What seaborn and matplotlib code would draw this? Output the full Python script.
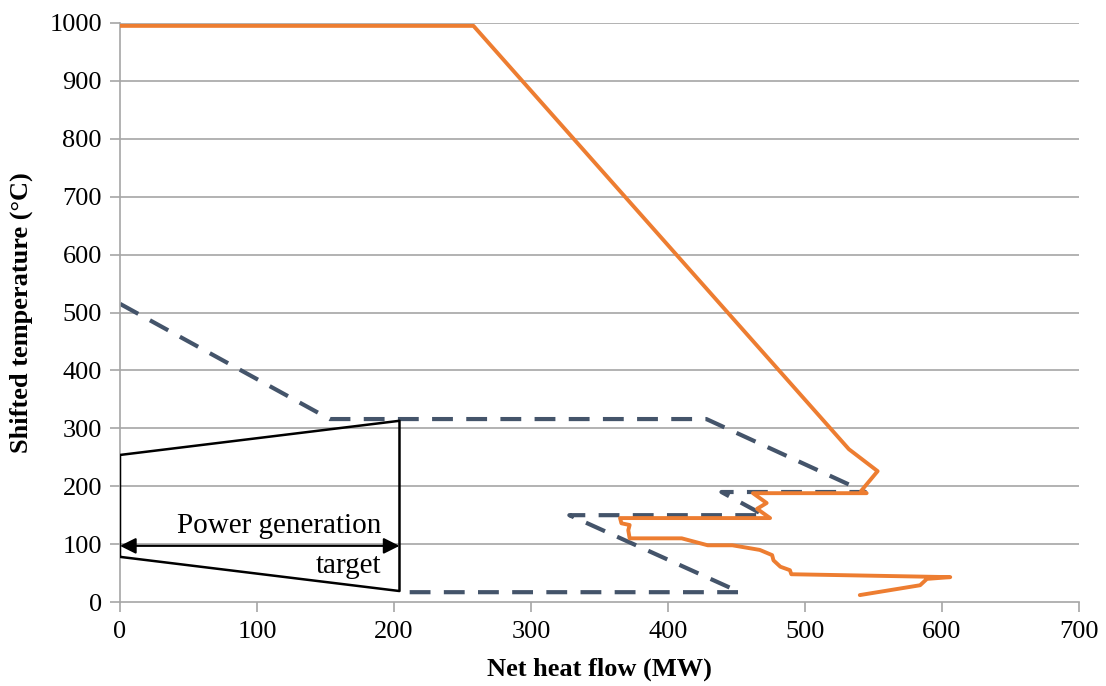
import matplotlib
matplotlib.use("Agg")
import matplotlib.pyplot as plt
import seaborn as sns
import pandas as pd

# Orange curve (shifted temperature vs net heat flow)
orange_x = [0, 258, 532, 553, 541, 545, 462, 472, 465, 474.5, 365, 366, 372, 371, 372,
            410, 429, 447, 467, 476, 477, 482, 489, 490, 606, 589, 584, 540]
orange_y = [995, 995, 264, 226, 192, 188, 188, 171, 161, 145, 145, 136, 133, 124, 110,
            110, 98, 98, 90, 81, 72, 61, 55, 48, 43, 40, 29, 12]

# Dashed curve
dash_x = [0, 153, 428, 544, 439, 470, 328, 452.5, 204]
dash_y = [515, 316, 316, 190, 190, 150, 150, 17, 17]

# Power generation target trapezoid
trap_x = [0, 0, 204, 204, 0]
trap_y = [78, 254, 313, 19, 78]
arrow_y = 97

x_ticks = [0, 100, 200, 300, 400, 500, 600, 700]
y_ticks = [0, 100, 200, 300, 400, 500, 600, 700, 800, 900, 1000]

sns.set_theme(style="white")
plt.rcParams['font.family'] = ['Liberation Serif', 'DejaVu Serif']
plt.rcParams['text.color'] = 'black'
plt.rcParams['axes.labelcolor'] = 'black'
plt.rcParams['xtick.color'] = 'black'
plt.rcParams['ytick.color'] = 'black'

fig = plt.figure(figsize=(11.06, 6.86), dpi=100)
ax = fig.add_axes([0.1085, 0.1224, 0.8671, 0.8441])

for yt in y_ticks[1:]:
    ax.axhline(yt, color='#A6A6A6', lw=1.2, zorder=0)

df_o = pd.DataFrame({'x': orange_x, 'y': orange_y})
df_d = pd.DataFrame({'x': dash_x, 'y': dash_y})
df_t = pd.DataFrame({'x': trap_x, 'y': trap_y})

sns.lineplot(data=df_o, x='x', y='y', sort=False, estimator=None, color='#ED7D31', lw=2.8, ax=ax, zorder=3)
sns.lineplot(data=df_d, x='x', y='y', sort=False, estimator=None, color='#44546A', lw=3.0, ax=ax, zorder=2,
             linestyle=(0, (5, 3.2)))
sns.lineplot(data=df_t, x='x', y='y', sort=False, estimator=None, color='black', lw=1.8, ax=ax, zorder=4)

ax.annotate('', xy=(0, arrow_y), xytext=(204, arrow_y),
            arrowprops=dict(arrowstyle='<|-|>', color='black', lw=1.5, mutation_scale=24, shrinkA=0, shrinkB=0))
ax.text(191, 109, 'Power generation', ha='right', va='bottom', fontsize=21)
ax.text(191, 85, 'target', ha='right', va='top', fontsize=21)

ax.set_xlim(0, 700)
ax.set_ylim(0, 1000)
ax.set_xticks(x_ticks)
ax.set_yticks(y_ticks)
ax.tick_params(axis='both', labelsize=19, direction='out', length=7, width=1.2, color='#A6A6A6',
               labelcolor='black', left=True, bottom=True)
ax.tick_params(axis='x', pad=7)
ax.tick_params(axis='y', pad=6)

for side in ['top', 'right']:
    ax.spines[side].set_visible(False)
for side in ['left', 'bottom']:
    ax.spines[side].set_color('#A6A6A6')
    ax.spines[side].set_linewidth(1.2)

ax.set_xlabel('Net heat flow (MW)', fontsize=19, fontweight='bold', labelpad=10)
ax.set_ylabel('Shifted temperature (°C)', fontsize=19, fontweight='bold', labelpad=12)

fig.savefig('out.png', dpi=100)
